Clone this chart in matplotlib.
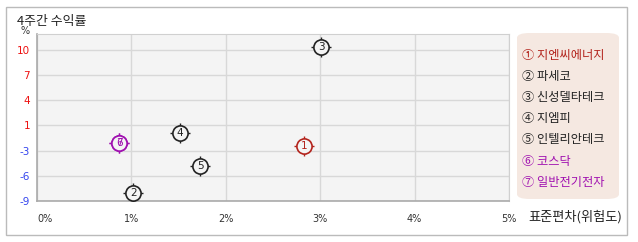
import matplotlib
matplotlib.use("Agg")
import matplotlib.pyplot as plt
from matplotlib.patches import Rectangle, FancyBboxPatch

plt.rcParams['font.family'] = ['Noto Sans CJK KR', 'DejaVu Sans']

# --- DATA ---
names = ["지엔씨에너지", "파세코", "신성델타테크", "지엠피", "인텔리안테크", "코스닥", "일반전기전자"]
circled = ["①", "②", "③", "④", "⑤", "⑥", "⑦"]
std_dev = [2.83, 1.02, 3.01, 1.51, 1.73, 0.87, 0.87]     # x, %
returns = [-2.05, -7.98, 10.58, -0.39, -4.56, -1.58, -1.58]  # y, %
colors = ["#b3231c", "#222222", "#222222", "#222222", "#222222", "#a010b0", "#a010b0"]

y_ticks = [-9, -5.8, -2.6, 0.6, 3.8, 7.0, 10.2]
y_labels = ["-9", "-6", "-3", "1", "4", "7", "10"]
x_ticks = [0, 1, 2, 3, 4, 5]
x_labels = ["0%", "1%", "2%", "3%", "4%", "5%"]

W, H = 638, 242
fig = plt.figure(figsize=(W / 100, H / 100), dpi=100)
fig.patch.set_facecolor("white")

# outer frame
fig.patches.append(Rectangle((6 / W, 1 - 235 / H), 621 / W, 228 / H, transform=fig.transFigure,
                             fill=False, edgecolor="#bbbbbb", linewidth=1))
fig.text(17 / W, 1 - 21 / H, "4주간 수익률", fontsize=9.3, color="#222222", va="center", ha="left")

ax = fig.add_axes([37 / W, 1 - 201 / H, 472 / W, 167 / H])
ax.set_facecolor("#f4f4f4")
ax.set_xlim(0, 5)
ax.set_ylim(-9, 12.23)
ax.set_xticks(x_ticks)
ax.set_xticklabels(x_labels, fontsize=7, color="#333333", family="DejaVu Sans")
ax.set_yticks(y_ticks)
ax.set_yticklabels(y_labels, fontsize=7.5, family="DejaVu Sans")
for lbl, v in zip(ax.get_yticklabels(), y_ticks):
    lbl.set_color("#ee1111" if v > 0 else "#3344ee")
ax.tick_params(length=0, pad=5)
ax.tick_params(axis="x", pad=9)
ax.get_xticklabels()[0].set_horizontalalignment("left")
ax.grid(True, color="#d8d8d8", linewidth=1)
ax.set_axisbelow(True)
for s in ["top", "right"]:
    ax.spines[s].set_color("#d0d0d0")
for s in ["left", "bottom"]:
    ax.spines[s].set_color("#aaaaaa")
    ax.spines[s].set_linewidth(1.2)

fig.text(25 / W, 1 - 36 / H, "%", fontsize=7, color="#333333", ha="center", va="bottom",
         family="DejaVu Sans")
fig.text(528 / W, 1 - 217 / H, "표준편차(위험도)", fontsize=9.5, color="#222222",
         ha="left", va="center")

for i in range(len(names)):
    ax.scatter(std_dev[i], returns[i], marker="+", s=190, color=colors[i], linewidths=1, zorder=3)
    ax.scatter(std_dev[i], returns[i], marker="o", s=120, facecolor="#f4f4f4",
               edgecolor=colors[i], linewidths=1.2, zorder=4)
    ax.text(std_dev[i], returns[i], str(i + 1), fontsize=7.5, color=colors[i],
            ha="center", va="center", zorder=5, family="DejaVu Sans")

# legend box
fig.patches.append(FancyBboxPatch((517 / W, 1 - 199 / H), 102 / W, 166 / H,
                                  boxstyle="round,pad=0,rounding_size=0.02",
                                  transform=fig.transFigure, facecolor="#f5e8e1",
                                  edgecolor="none"))
for i, name in enumerate(names):
    y = 55 + i * 21.2
    fig.text(522 / W, 1 - y / H, circled[i] + " " + name, fontsize=8.8, color=colors[i],
             ha="left", va="center")

fig.savefig("out.png", dpi=100)
